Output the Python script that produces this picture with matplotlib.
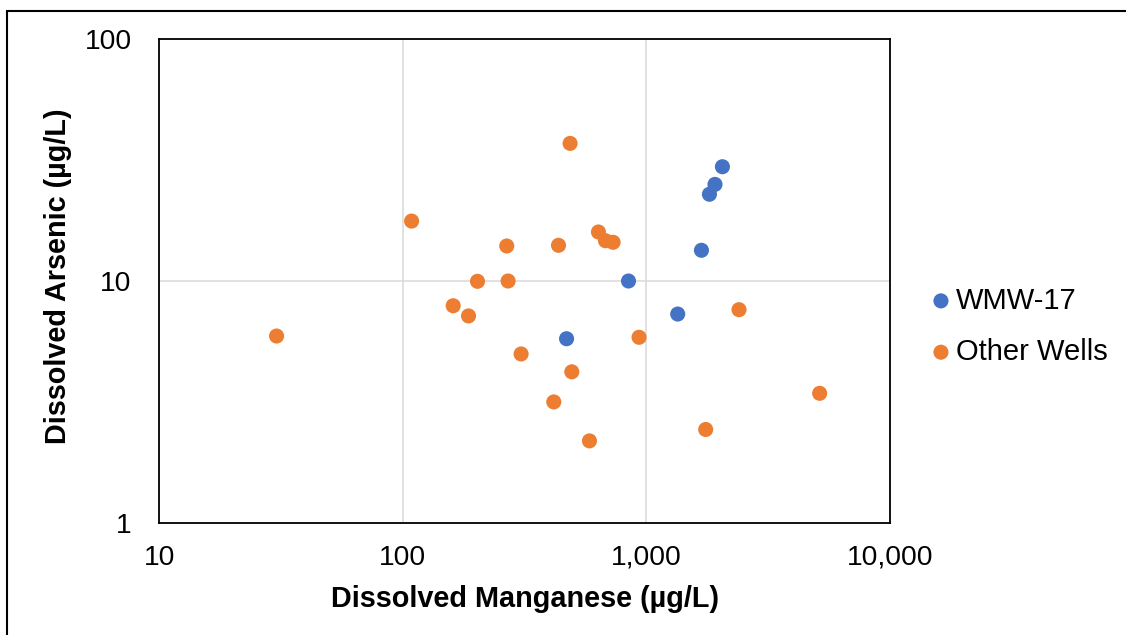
import matplotlib
matplotlib.use("Agg")
import matplotlib.pyplot as plt
from matplotlib.ticker import FixedLocator, FuncFormatter, NullLocator
from matplotlib.patches import Rectangle

plt.rcParams['font.family'] = ['Liberation Sans', 'DejaVu Sans']

# Data (µg/L)
wmw17_mn = [470, 844, 1344, 1682, 1814, 1912, 2051]
wmw17_as = [5.77, 10.0, 7.30, 13.4, 22.85, 25.1, 29.7]

other_mn = [30.3, 108.6, 160.9, 186, 202.5, 267, 270.4, 305.8, 416.5, 435.5,
            485.9, 493.8, 583.5, 635.3, 678.9, 729.5, 932.6, 1751, 2399, 5142]
other_as = [5.92, 17.7, 7.90, 7.17, 9.97, 13.96, 10.0, 4.99, 3.16, 14.05,
            37.1, 4.21, 2.18, 15.95, 14.68, 14.46, 5.85, 2.43, 7.61, 3.43]

series_names = ["WMW-17", "Other Wells"]
x_ticks = [10, 100, 1000, 10000]
y_ticks = [1, 10, 100]
x_label = "Dissolved Manganese (µg/L)"
y_label = "Dissolved Arsenic (µg/L)"

blue = "#4472C4"
orange = "#ED7D31"
W, H = 1126, 635

fig = plt.figure(figsize=(W / 100, H / 100), dpi=100)
ax = fig.add_axes([159.3 / W, 1 - 522.7 / H, (890 - 159.3) / W, (522.7 - 39.3) / H])

ax.set_xscale('log')
ax.set_yscale('log')
ax.set_xlim(10, 10000)
ax.set_ylim(1, 100)

h1 = ax.scatter(wmw17_mn, wmw17_as, s=118, color=blue, edgecolors='none', zorder=3, label=series_names[0])
h2 = ax.scatter(other_mn, other_as, s=118, color=orange, edgecolors='none', zorder=3, label=series_names[1])

ax.xaxis.set_major_locator(FixedLocator(x_ticks))
ax.yaxis.set_major_locator(FixedLocator(y_ticks))
ax.xaxis.set_minor_locator(NullLocator())
ax.yaxis.set_minor_locator(NullLocator())
fmt = FuncFormatter(lambda v, p: f"{v:,.0f}")
ax.xaxis.set_major_formatter(fmt)
ax.yaxis.set_major_formatter(fmt)

ax.grid(True, which='major', color='#D9D9D9', linewidth=1.1, zorder=0)
ax.set_axisbelow(True)
for sp in ax.spines.values():
    sp.set_color('black')
    sp.set_linewidth(1.3)

ax.tick_params(axis='both', which='both', length=0, labelsize=20.3, colors='black')
ax.tick_params(axis='x', pad=16)
ax.tick_params(axis='y', pad=20)

fig.text(524.6 / W, 1 - 598.7 / H, x_label, ha='center', va='center',
         fontsize=20.8, fontweight='bold')
fig.text(58 / W, 1 - 276.5 / H, y_label, ha='center', va='center',
         rotation=90, fontsize=20.8, fontweight='bold')

leg = fig.legend(handles=[h1, h2], loc='center left',
                 bbox_to_anchor=(932.2 / W, 1 - 326.2 / H),
                 frameon=False, fontsize=21, handlelength=0.6,
                 handletextpad=0.2, borderpad=0, borderaxespad=0,
                 labelspacing=0.8, scatterpoints=1)

border = Rectangle((7 / W, -0.2), 1.5, 1 - 11 / H + 0.2, transform=fig.transFigure,
                   fill=False, edgecolor='black', linewidth=1.5, clip_on=False)
fig.patches.append(border)

fig.savefig("out.png", dpi=100)
